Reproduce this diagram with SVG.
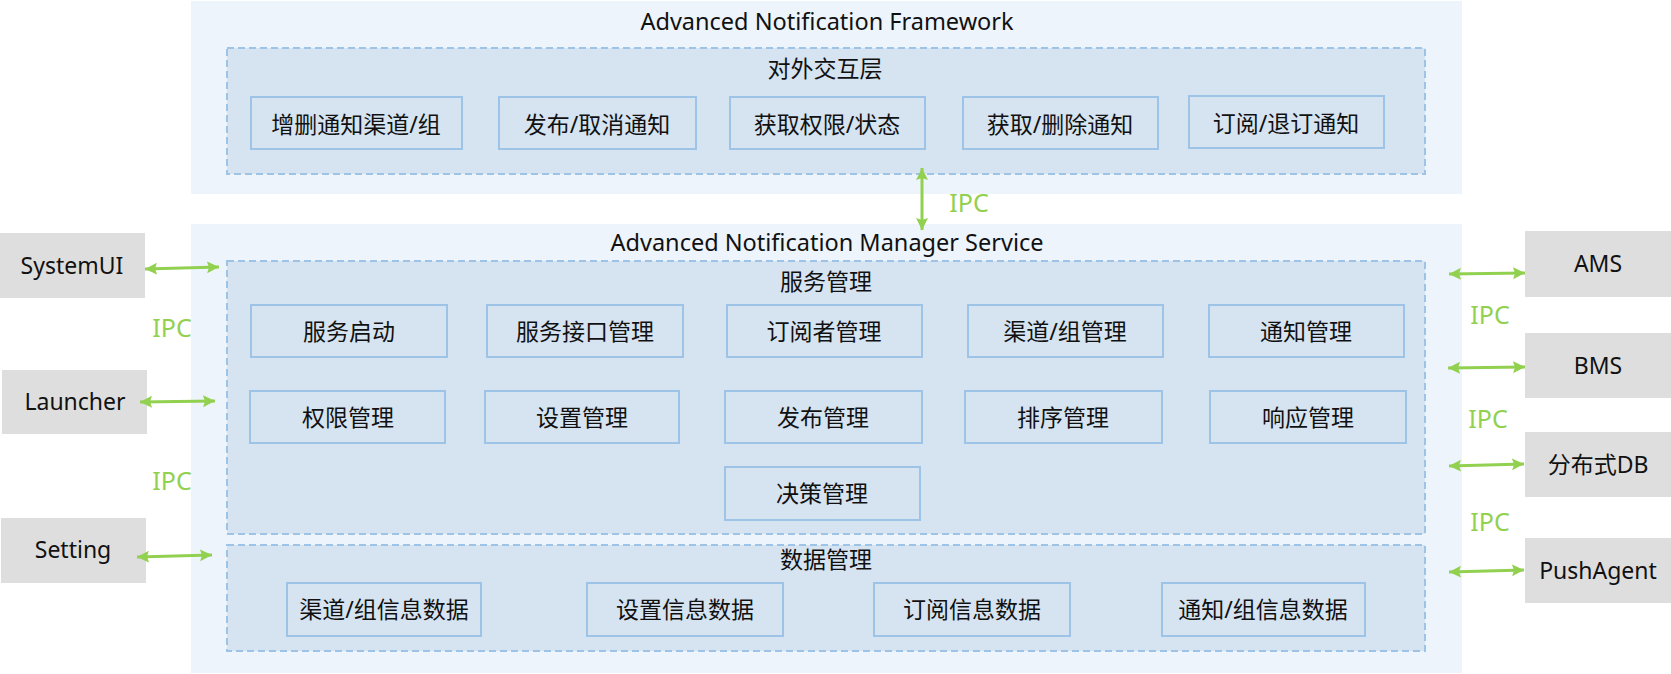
<svg xmlns="http://www.w3.org/2000/svg" width="1671" height="674" viewBox="0 0 1671 674">
<style>
.frame{fill:#EDF4FB;}
.layer{fill:#D6E4F2;stroke:#9DC3E6;stroke-width:2;stroke-dasharray:7 4;}
.box{fill:#D6E4F2;stroke:#9DC3E6;stroke-width:2;}
.ext{fill:#DEDEDE;}
text{font-family:"Noto Sans","Noto Sans CJK SC",sans-serif;font-size:23px;fill:#111;text-anchor:middle;}
.title{font-size:23.5px;}
.ipc{fill:#92D050;font-size:25px;}
.conn line{stroke:#92D050;stroke-width:3;marker-start:url(#ah);marker-end:url(#ah);}
</style>
<defs>
<marker id="ah" markerUnits="userSpaceOnUse" markerWidth="14" markerHeight="14" refX="12" refY="6" orient="auto-start-reverse" viewBox="0 0 14 12">
<path d="M0,0 L12,6 L0,12 L2,6 Z" fill="#92D050"/>
</marker>
</defs>

<g id="framework">
<rect class="frame" x="191" y="1" width="1271" height="193"/>
<text class="title" x="827" y="30">Advanced Notification Framework</text>
</g>
<g id="interaction-layer">
<rect class="layer" x="227" y="48" width="1198" height="126"/>
<text x="825" y="77">对外交互层</text>
</g>
<g id="n-add-channel"><rect class="box" x="251" y="97" width="211" height="52"/><text x="356" y="132.5">增删通知渠道/组</text></g>
<g id="n-publish-cancel"><rect class="box" x="499" y="97" width="197" height="52"/><text x="597" y="132.5">发布/取消通知</text></g>
<g id="n-get-perm"><rect class="box" x="730" y="97" width="195" height="52"/><text x="827" y="132.5">获取权限/状态</text></g>
<g id="n-get-delete"><rect class="box" x="963" y="97" width="195" height="52"/><text x="1060" y="132.5">获取/删除通知</text></g>
<g id="n-subscribe"><rect class="box" x="1189" y="96" width="195" height="52"/><text x="1286" y="131.5">订阅/退订通知</text></g>

<g id="manager-service">
<rect class="frame" x="191" y="224" width="1271" height="449"/>
<text class="title" x="827" y="251">Advanced Notification Manager Service</text>
</g>
<g id="service-mgmt">
<rect class="layer" x="227" y="261" width="1198" height="273"/>
<text x="826" y="290">服务管理</text>
</g>
<g id="n-svc-start"><rect class="box" x="251" y="305" width="196" height="52"/><text x="349" y="340">服务启动</text></g>
<g id="n-svc-iface"><rect class="box" x="487" y="305" width="196" height="52"/><text x="585" y="340">服务接口管理</text></g>
<g id="n-subscriber"><rect class="box" x="727" y="305" width="195" height="52"/><text x="824" y="340">订阅者管理</text></g>
<g id="n-channel-mgmt"><rect class="box" x="968" y="305" width="195" height="52"/><text x="1065" y="340">渠道/组管理</text></g>
<g id="n-notif-mgmt"><rect class="box" x="1209" y="305" width="195" height="52"/><text x="1306" y="340">通知管理</text></g>
<g id="n-perm-mgmt"><rect class="box" x="250" y="391" width="195" height="52"/><text x="348" y="426">权限管理</text></g>
<g id="n-setting-mgmt"><rect class="box" x="485" y="391" width="194" height="52"/><text x="582" y="426">设置管理</text></g>
<g id="n-publish-mgmt"><rect class="box" x="725" y="391" width="197" height="52"/><text x="823" y="426">发布管理</text></g>
<g id="n-sort-mgmt"><rect class="box" x="965" y="391" width="197" height="52"/><text x="1063" y="426">排序管理</text></g>
<g id="n-resp-mgmt"><rect class="box" x="1210" y="391" width="196" height="52"/><text x="1308" y="426">响应管理</text></g>
<g id="n-decision"><rect class="box" x="725" y="467" width="195" height="53"/><text x="822" y="502">决策管理</text></g>

<g id="data-mgmt">
<rect class="layer" x="227" y="545" width="1198" height="106"/>
<text x="826" y="568">数据管理</text>
</g>
<g id="n-channel-data"><rect class="box" x="287" y="583" width="194" height="53"/><text x="384" y="618">渠道/组信息数据</text></g>
<g id="n-setting-data"><rect class="box" x="587" y="583" width="196" height="53"/><text x="685" y="618">设置信息数据</text></g>
<g id="n-sub-data"><rect class="box" x="874" y="583" width="196" height="53"/><text x="972" y="618">订阅信息数据</text></g>
<g id="n-notif-data"><rect class="box" x="1162" y="583" width="203" height="53"/><text x="1263" y="618">通知/组信息数据</text></g>

<g id="systemui"><rect class="ext" x="0" y="233" width="145" height="65"/><text x="72" y="274">SystemUI</text></g>
<g id="launcher"><rect class="ext" x="2" y="370" width="145" height="64"/><text x="75" y="410">Launcher</text></g>
<g id="setting"><rect class="ext" x="1" y="518" width="145" height="65"/><text x="73" y="558">Setting</text></g>
<g id="ams"><rect class="ext" x="1525" y="231" width="146" height="66"/><text x="1598" y="272">AMS</text></g>
<g id="bms"><rect class="ext" x="1525" y="333" width="146" height="65"/><text x="1598" y="374">BMS</text></g>
<g id="distdb"><rect class="ext" x="1525" y="432" width="146" height="65"/><text x="1598" y="473">分布式DB</text></g>
<g id="pushagent"><rect class="ext" x="1525" y="538" width="146" height="65"/><text x="1598" y="579">PushAgent</text></g>

<g id="connectors" class="conn">
<line x1="922" y1="168" x2="922" y2="230"/>
<line x1="145" y1="269" x2="219" y2="267"/>
<line x1="140" y1="402" x2="215" y2="401"/>
<line x1="137" y1="557" x2="212" y2="555"/>
<line x1="1449" y1="274" x2="1525" y2="273"/>
<line x1="1448" y1="368" x2="1525" y2="367"/>
<line x1="1449" y1="466" x2="1524" y2="464"/>
<line x1="1449" y1="572" x2="1524" y2="570"/>
</g>
<g id="ipc-labels">
<text class="ipc" x="969" y="212">IPC</text>
<text class="ipc" x="172" y="337">IPC</text>
<text class="ipc" x="172" y="490">IPC</text>
<text class="ipc" x="1490" y="324">IPC</text>
<text class="ipc" x="1488" y="428">IPC</text>
<text class="ipc" x="1490" y="531">IPC</text>
</g>
</svg>
